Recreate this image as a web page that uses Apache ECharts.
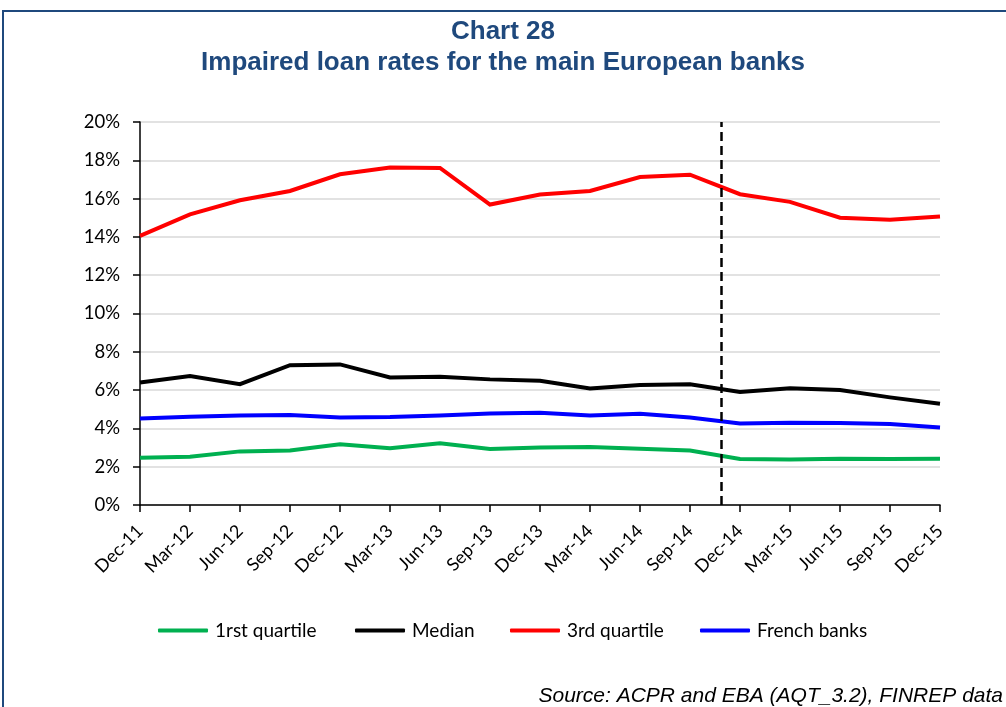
<!DOCTYPE html>
<html>
<head>
<meta charset="utf-8">
<script src="https://cdn.jsdelivr.net/npm/echarts@6/dist/echarts.min.js"></script>
<style>
  html, body { margin: 0; padding: 0; background: #fff; }
  #chart { width: 1006px; height: 707px; }
</style>
</head>
<body>
<div id="chart"></div>
<script>
// Quarter-end dates
const quarters = ['Dec-11','Mar-12','Jun-12','Sep-12','Dec-12','Mar-13','Jun-13','Sep-13','Dec-13',
                  'Mar-14','Jun-14','Sep-14','Dec-14','Mar-15','Jun-15','Sep-15','Dec-15'];

// Impaired loan rates, in %
const firstQuartile = [2.47, 2.52, 2.80, 2.85, 3.17, 2.97, 3.23, 2.92, 3.00, 3.03, 2.94, 2.85, 2.40, 2.38, 2.42, 2.40, 2.42];
const median        = [6.40, 6.73, 6.31, 7.30, 7.34, 6.66, 6.70, 6.56, 6.49, 6.09, 6.26, 6.31, 5.90, 6.10, 6.00, 5.62, 5.29];
const thirdQuartile = [14.05, 15.18, 15.91, 16.40, 17.27, 17.62, 17.60, 15.69, 16.21, 16.40, 17.13, 17.25, 16.23, 15.83, 15.00, 14.90, 15.06];
const frenchBanks   = [4.52, 4.61, 4.68, 4.70, 4.57, 4.59, 4.68, 4.78, 4.82, 4.68, 4.77, 4.57, 4.26, 4.30, 4.28, 4.23, 4.05];

// Break between data sources, as a fractional quarter index
const breakPosition = 11.63;

const yTicks = { min: 0, max: 20, interval: 2 };

const seriesDefs = [
  { name: '1rst quartile', data: firstQuartile, color: '#00B050' },
  { name: 'Median',        data: median,        color: '#000000' },
  { name: '3rd quartile',  data: thirdQuartile, color: '#FF0000' },
  { name: 'French banks',  data: frenchBanks,   color: '#0000FF' }
];

// Left edge of each legend entry
const legendLefts = [158, 355, 510, 700];

const labelFont = 'Lato, "Open Sans", sans-serif';
const chart = echarts.init(document.getElementById('chart'), null, { renderer: 'canvas' });

const series = seriesDefs.map(s => ({
  name: s.name,
  type: 'line',
  data: s.data,
  xAxisIndex: 0,
  symbol: 'none',
  lineStyle: { color: s.color, width: 4, join: 'miter' },
  itemStyle: { color: s.color },
  z: 3
}));

// Dashed separator drawn on a hidden numeric x axis spanning the same range
series.push({
  name: 'break',
  type: 'line',
  xAxisIndex: 1,
  data: [[breakPosition, yTicks.min], [breakPosition, yTicks.max]],
  symbol: 'none',
  silent: true,
  lineStyle: { color: '#000', width: 2.5, type: [9, 5] },
  z: 4
});

const legends = seriesDefs.map((s, i) => ({
  data: [{ name: s.name, icon: 'roundRect' }],
  left: legendLefts[i],
  top: 621,
  padding: 0,
  itemWidth: 50,
  itemHeight: 4,
  textStyle: { fontFamily: labelFont, fontSize: 19, color: '#000', padding: [0, 0, 0, 2] }
}));

chart.setOption({
  animation: false,
  backgroundColor: '#fff',
  title: {
    text: 'Chart 28\nImpaired loan rates for the main European banks',
    left: 'center',
    top: 11,
    textStyle: {
      fontFamily: '"Liberation Sans", Arial, sans-serif',
      fontWeight: 'bold',
      fontSize: 26,
      lineHeight: 31,
      color: '#1F497D'
    }
  },
  graphic: [
    {
      type: 'rect',
      shape: { x: 3, y: 11, width: 1100, height: 800 },
      style: { fill: 'none', stroke: '#1F497D', lineWidth: 2 },
      silent: true
    },
    {
      type: 'text',
      right: 3,
      top: 686,
      style: {
        text: 'Source: ACPR and EBA (AQT_3.2), FINREP data',
        font: 'italic 21px "Liberation Sans", Arial, sans-serif',
        fill: '#000'
      }
    }
  ],
  legend: legends,
  grid: { left: 140, right: 66, top: 122, bottom: 202, containLabel: false },
  xAxis: [
    {
      type: 'category',
      data: quarters,
      boundaryGap: false,
      axisLine: { lineStyle: { color: '#000', width: 1.5 } },
      axisTick: { show: true, length: 7, lineStyle: { color: '#000', width: 1.5 }, alignWithLabel: true },
      axisLabel: {
        rotate: 45,
        margin: 23,
        fontFamily: labelFont,
        fontSize: 18,
        color: '#000',
        interval: 0
      },
      splitLine: { show: false }
    },
    {
      type: 'value',
      min: 0,
      max: quarters.length - 1,
      show: false
    }
  ],
  yAxis: {
    type: 'value',
    min: yTicks.min,
    max: yTicks.max,
    interval: yTicks.interval,
    axisLine: { show: true, lineStyle: { color: '#000', width: 1.5 } },
    axisTick: { show: true, length: 7, lineStyle: { color: '#000', width: 1.5 } },
    axisLabel: {
      formatter: '{value}%',
      margin: 20,
      fontFamily: labelFont,
      fontSize: 18.5,
      color: '#000'
    },
    splitLine: { show: true, lineStyle: { color: '#D9D9D9', width: 1.5 } }
  },
  series: series
});
</script>
</body>
</html>
